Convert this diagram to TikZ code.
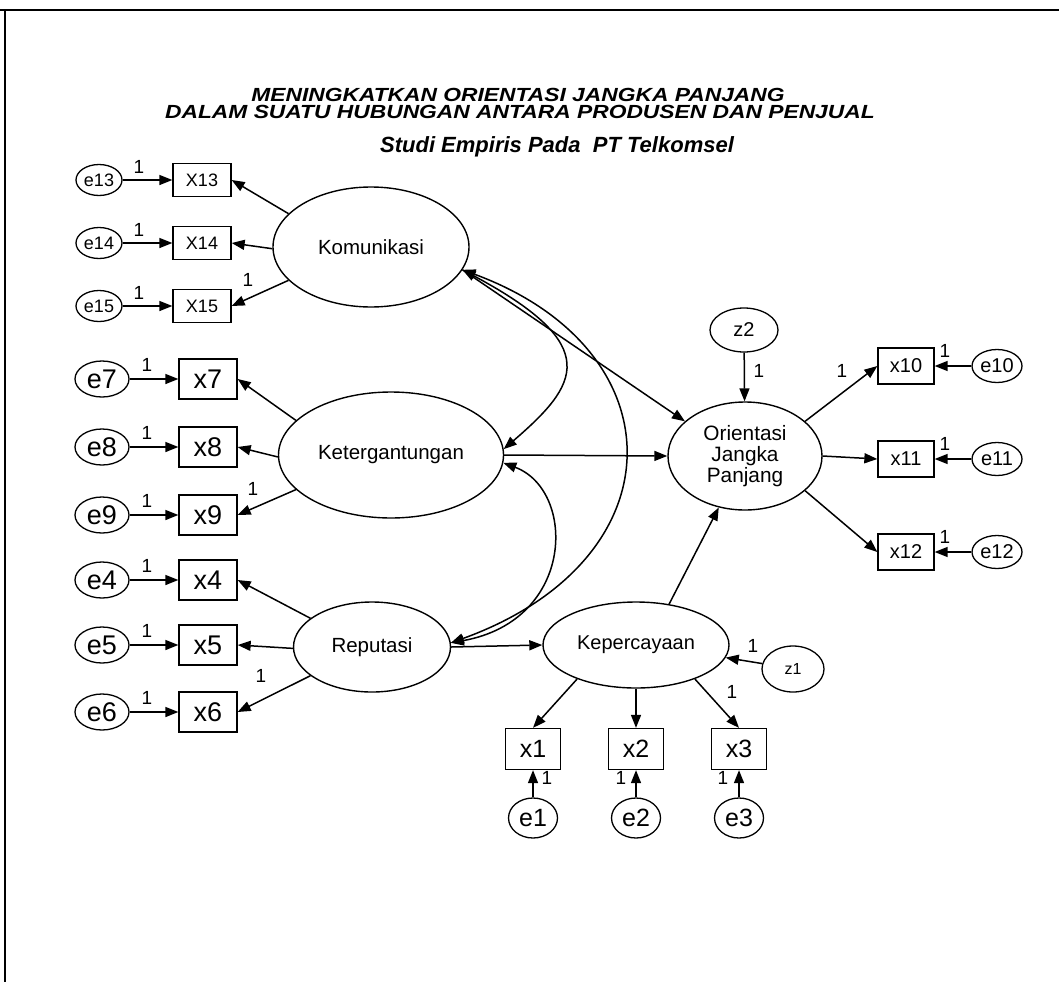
\documentclass[tikz,border=0pt]{standalone}
\usepackage{fontspec}
\setmainfont{Liberation Sans}
\usetikzlibrary{arrows.meta,shapes.geometric}

\tikzset{
  lat/.style={ellipse, draw, line width=1.4pt, inner sep=0pt, align=center,
              font=\fontsize{20.5}{21}\selectfont},
  obs/.style={rectangle, draw, line width=1.3pt, inner sep=0pt},
  err/.style={ellipse, draw, line width=1.3pt, inner sep=0pt},
  smallset/.style={font=\fontsize{18}{18}\selectfont},
  bigset/.style={font=\fontsize{27}{27}\selectfont},
  midset/.style={font=\fontsize{20}{20}\selectfont},
  lowset/.style={font=\fontsize{25}{25}\selectfont},
  arr/.style={-{Triangle[length=13pt,width=10pt]}, line width=1.5pt},
  biarr/.style={{Triangle[length=13pt,width=10pt]}-{Triangle[length=13pt,width=10pt]}, line width=1.5pt},
  one/.style={inner sep=0pt, font=\fontsize{19}{19}\selectfont},
  ttl/.style={inner sep=0pt, font=\fontsize{19}{19}\selectfont\bfseries\itshape},
}

\begin{document}
\begin{tikzpicture}[x=1pt,y=-1pt]
\useasboundingbox (0,0) rectangle (1059,982);

% frame
\draw[line width=2.5pt] (0,10) -- (1059,10);
\draw[line width=1.2pt] (5,10) -- (5,982);

% titles
\node[ttl] (title1) at (518,95) {\scalebox{1.2}[1]{MENINGKATKAN ORIENTASI JANGKA PANJANG}};
\node[ttl] (title2) at (520,112) {\scalebox{1.2}[1]{DALAM SUATU HUBUNGAN ANTARA PRODUSEN DAN PENJUAL}};
\node[ttl, font=\fontsize{22}{22}\selectfont\bfseries\itshape] (sub) at (557,147) {Studi Empiris Pada\ \ PT Telkomsel};

% ---- Komunikasi block
\node[lat, minimum width=196, minimum height=120] (kom) at (371,247) {Komunikasi};
\foreach \i/\y in {13/180,14/243,15/306}{
  \node[err, smallset, minimum width=46, minimum height=31] (e\i) at (99,\y) {e\i};
  \node[obs, smallset, minimum width=58, minimum height=33] (x\i) at (202,\y) {X\i};
  \draw[arr] (e\i) -- (x\i);
  \node[one] (o\i) at (139,\y-13) {1};
}
\draw[arr] (kom.158) -- (x13.east);
\draw[arr] (kom.181) -- (x14.east);
\draw[arr] (kom.-158) -- (x15.east);
\node[one] (k15) at (248,280) {1};

% ---- Ketergantungan block
\node[lat, minimum width=225, minimum height=126] (ket) at (391,455) {Ketergantungan};
% ---- Reputasi block
\node[lat, minimum width=157, minimum height=90] (rep) at (372,647) {Reputasi};
\foreach \i/\y in {7/379,8/447,9/515,4/580,5/645,6/712}{
  \node[err, bigset, minimum width=54, minimum height=36] (e\i) at (102,\y) {e\i};
  \node[obs, bigset, minimum width=58, minimum height=40] (x\i) at (208,\y) {x\i};
  \draw[arr] (e\i) -- (x\i);
  \node[one] (o\i) at (147,\y-14) {1};
}
\draw[arr] (ket.160) -- (x7.east);
\draw[arr] (ket.181) -- (x8.east);
\draw[arr] (ket.-160) -- (x9.east);
\node[one] (k9) at (253,489) {1};
\draw[arr] (rep.155) -- (x4.east);
\draw[arr] (rep.181) -- (x5.east);
\draw[arr] (rep.-155) -- (x6.east);
\node[one] (r6) at (261,676) {1};

% ---- Orientasi Jangka Panjang block
\node[lat, font=\fontsize{20.8}{21}\selectfont, minimum width=154, minimum height=108] (ori) at (745,456) {Orientasi\\Jangka\\Panjang};
\node[err, midset, minimum width=68, minimum height=44] (z2) at (744,330) {z2};
\draw[arr] (z2) -- (ori);
\node[one] (oz2) at (759,371) {1};
\foreach \i/\y in {10/366,11/459,12/552}{
  \node[obs, midset, minimum width=56, minimum height=36] (x\i) at (906,\y) {x\i};
  \node[err, midset, minimum width=50, minimum height=33] (e\i) at (997,\y) {e\i};
  \draw[arr] (e\i) -- (x\i);
  \node[one] (o\i) at (945,\y-15) {1};
}
\draw[arr] (ori.30) -- (x10.west);
\draw[arr] (ori.east) -- (x11.west);
\draw[arr] (ori.-30) -- (x12.west);
\node[one] (r10) at (842,371) {1};

% ---- Kepercayaan block
\node[lat, font=\fontsize{20}{20}\selectfont, minimum width=186, minimum height=86] (kep) at (636,645) {Kepercayaan};
\node[err, font=\fontsize{16}{16}\selectfont, minimum width=62, minimum height=46] (z1) at (793,669) {z1};
\draw[arr] (z1.170) -- (kep.-8);
\node[one] (oz1) at (753,646) {1};
\foreach \i/\x in {1/533,2/636,3/739}{
  \node[obs, lowset, minimum width=55, minimum height=41] (x\i) at (\x,749) {x\i};
  \node[err, lowset, minimum width=49, minimum height=40] (e\i) at (\x,818) {e\i};
  \draw[arr] (e\i) -- (x\i);
}
\node[one] (o1) at (547,778) {1};
\node[one] (o2) at (621,778) {1};
\node[one] (o3) at (723,778) {1};
\draw[arr] (kep.-150) -- (x1.north);
\draw[arr] (kep.south) -- (x2.north);
\draw[arr] (kep.-30) -- (x3.north);
\node[one] (k3) at (732,692) {1};

% ---- structural paths
\draw[arr] (kom.-14) -- (ori.150);
\draw[arr] (ket.0) -- (ori.180);
\draw[arr] (rep.0) -- (kep.180);
\draw[arr] (kep.51) -- (ori.-117);

% ---- covariances
\draw[biarr] (kom.-14) .. controls (605,346) and (578,385) .. (ket.3);
\draw[biarr] (ket.-4) .. controls (576,490) and (576,620) .. (rep.3);
\draw[biarr] (kom.-14) .. controls (680,350) and (680,560) .. (rep.3);
\end{tikzpicture}
\end{document}
